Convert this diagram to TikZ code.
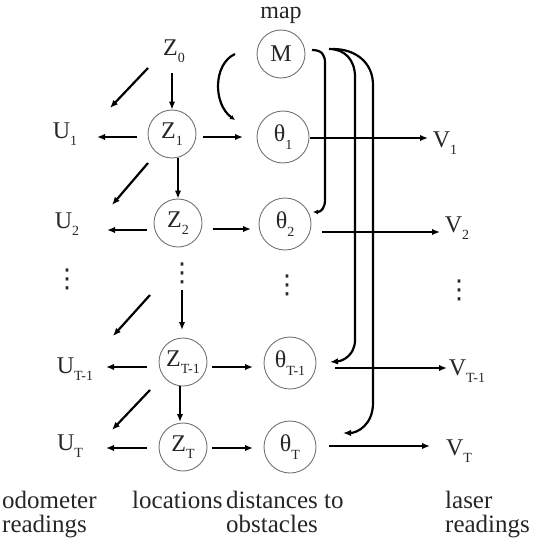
\documentclass[tikz,border=0pt]{standalone}
\usepackage{fontspec}
\setmainfont{Liberation Serif}
\newfontfamily\djv{DejaVu Sans}
\usetikzlibrary{arrows.meta,calc}
\newcommand\lsb[1]{\raisebox{-0.32em}{\fontsize{14}{14}\selectfont #1}}
\begin{document}
\begin{tikzpicture}[x=1pt,y=-1pt,
  var/.style={circle, draw=black!55, line width=0.9pt, minimum size=48pt, inner sep=0pt, font=\fontsize{24}{24}\selectfont, text=black!85},
  thv/.style={var, minimum size=52pt},
  lbl/.style={anchor=base, inner sep=0pt, font=\fontsize{24}{24}\selectfont, text=black!85},
  bcap/.style={anchor=base west, inner sep=0pt, font=\fontsize{25}{23}\selectfont, text=black!85},
  dts/.style={inner sep=0pt, font=\djv\fontsize{26}{26}\selectfont, text=black!85},
  arr/.style={line width=2.2pt, -{Latex[length=8pt,width=6.5pt]}},
  smallarr/.style={line width=2.2pt, -{Latex[length=5pt,width=5pt]}},
]
\useasboundingbox (0,0) rectangle (534,546);
% nodes
\node[lbl] (map) at (281,19) {map};
\node[var] (M) at (281,54) {M};
\node[lbl] (Z0) at (174,55) {Z\lsb{0}};
\node[var] (Z1) at (172,134) {Z\lsb{1}};
\node[var] (Z2) at (178,223) {Z\lsb{2}};
\node[dts] (Zd) at (182,273) {⋮};
\node[var] (ZT1) at (183,362) {Z\lsb{T-1}};
\node[var] (ZT) at (183,447) {Z\lsb{T}};
\node[thv] (th1) at (283,137) {θ\lsb{1}};
\node[thv] (th2) at (285,224) {θ\lsb{2}};
\node[dts] (thd) at (287,285) {⋮};
\node[thv] (thT1) at (290,363) {θ\lsb{T-1}};
\node[thv] (thT) at (290,447) {θ\lsb{T}};
\node[lbl] (U1) at (65,138) {U\lsb{1}};
\node[lbl] (U2) at (67,228) {U\lsb{2}};
\node[dts] (Ud) at (67,279) {⋮};
\node[lbl] (UT1) at (75,373) {U\lsb{T-1}};
\node[lbl] (UT) at (70,450) {U\lsb{T}};
\node[lbl] (V1) at (445,147) {V\lsb{1}};
\node[lbl] (V2) at (457,232) {V\lsb{2}};
\node[dts] (Vd) at (459,290) {⋮};
\node[lbl] (VT1) at (467,375) {V\lsb{T-1}};
\node[lbl] (VT) at (459,455) {V\lsb{T}};
% bottom captions
\node[bcap] (c1) at (2,508) {\begin{tabular}[t]{@{}l@{}}odometer\\readings\end{tabular}};
\node[bcap] (c2) at (132,508) {locations};
\node[bcap] (c3) at (226,508) {\begin{tabular}[t]{@{}l@{}}distances to\\obstacles\end{tabular}};
\node[bcap] (c4) at (445,508) {\begin{tabular}[t]{@{}l@{}}laser\\readings\end{tabular}};
% arrows: location chain
\draw[arr] ($(Z0.base)+(-2,18)$) -- (Z1.north);
\draw[arr] ($(Z1)+(6,24)$) -- (Z2.north);
\draw[arr] ($(Zd)+(0,17)$) -- ($(ZT1)+(-1,-32)$);
\draw[arr] ($(ZT1)+(-3,24)$) -- ($(ZT)+(-3,-25)$);
% odometer
\draw[arr] ($(Z0.base)+(-26,13)$) -- ($(U1.base)+(45,-30)$);
\draw[arr] ($(Z1)+(-35,3)$) -- ($(U1.base)+(32,-1)$);
\draw[arr] ($(Z1)+(-24,29)$) -- ($(U2.base)+(45,-23)$);
\draw[arr] ($(Z2)+(-31,7)$) -- ($(U2.base)+(40,2)$);
\draw[arr] ($(Zd)+(-32,22)$) -- ($(UT1.base)+(38,-37)$);
\draw[arr] ($(ZT1)+(-36,5)$) -- ($(UT1.base)+(31,-6)$);
\draw[arr] ($(ZT1)+(-33,28)$) -- ($(UT.base)+(42,-20)$);
\draw[arr] ($(ZT)+(-36,1)$) -- ($(UT.base)+(36,-2)$);
% locations to distances
\draw[arr] ($(Z1)+(31,3)$) -- ($(th1)+(-40,0)$);
\draw[arr] ($(Z2)+(35,6)$) -- ($(th2)+(-34,5)$);
\draw[arr] ($(ZT1)+(29,5)$) -- ($(thT1)+(-37,4)$);
\draw[arr] ($(ZT)+(29,1)$) -- ($(thT)+(-37,1)$);
% distances to laser
\draw[arr] ($(th1)+(27,1)$) -- ($(V1.base)+(-17,-9)$);
\draw[arr] ($(th2)+(37,8)$) -- ($(V2.base)+(-17,0)$);
\draw[arr] ($(thT1)+(45,5)$) -- ($(VT1.base)+(-20,-7)$);
\draw[arr] ($(thT)+(39,-1)$) -- ($(VT.base)+(-29,-9)$);
% map curves
\draw[smallarr] ($(M)+(-46,0)$) .. controls +(-22,10) and +(-22,-16) .. ($(th1)+(-48,-17)$);
\draw[smallarr] ($(M)+(31,-4)$) .. controls ($(M)+(41,-4)$) and ($(M)+(44,1)$) .. ($(M)+(44,9)$)
  -- ($(th2)+(40,-24)$) .. controls ($(th2)+(40,-16)$) and ($(th2)+(36,-12)$) .. ($(th2)+(28,-12)$);
\draw[arr] ($(M)+(48,-5)$) .. controls ($(M)+(64,-5)$) and ($(M)+(74,6)$) .. ($(M)+(74,23)$)
  -- ($(thT1)+(65,-23)$) .. controls ($(thT1)+(65,-8)$) and ($(thT1)+(53,-2)$) .. ($(thT1)+(40,-1)$);
\draw[arr] ($(M)+(52,-5)$) .. controls ($(M)+(74,-5)$) and ($(M)+(92,8)$) .. ($(M)+(92,31)$)
  -- ($(thT)+(83,-44)$) .. controls ($(thT)+(83,-22)$) and ($(thT)+(67,-14)$) .. ($(thT)+(53,-14)$);
\end{tikzpicture}
\end{document}
